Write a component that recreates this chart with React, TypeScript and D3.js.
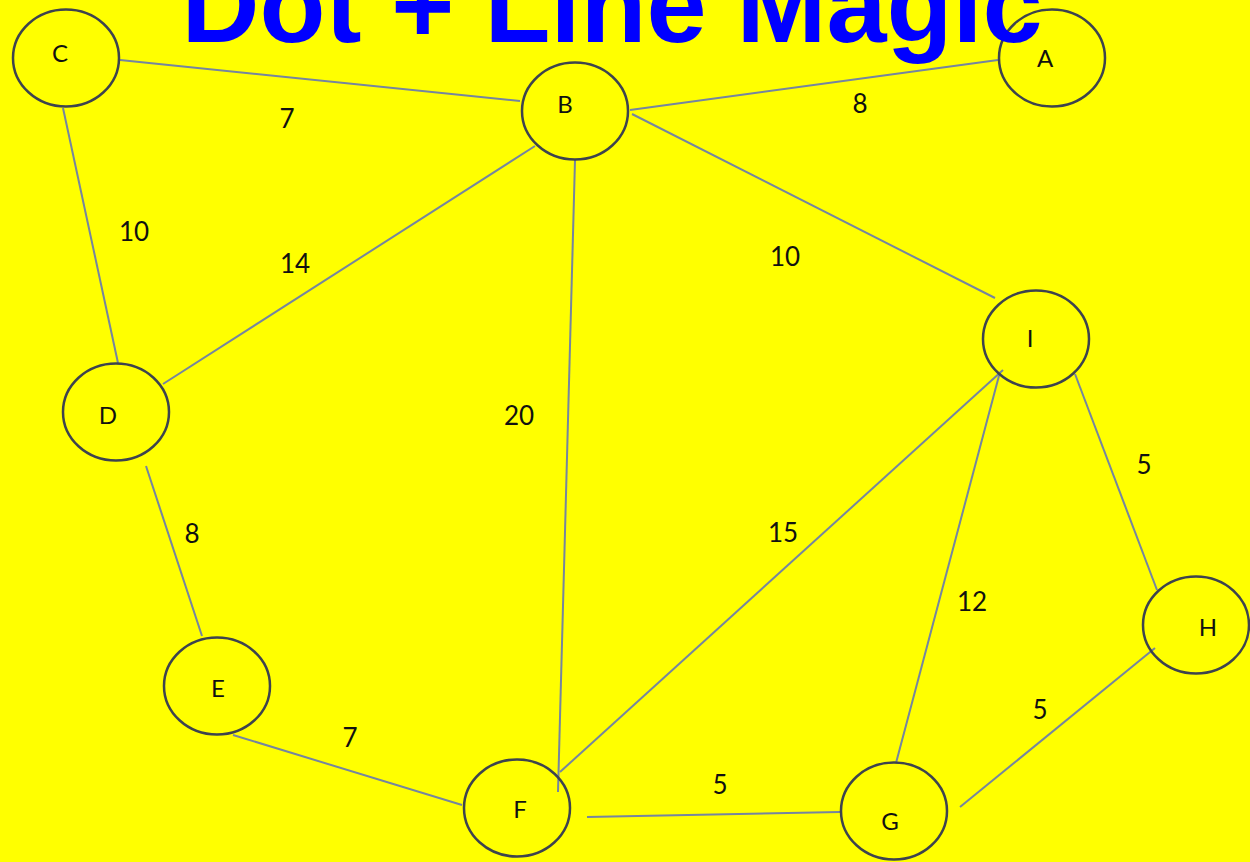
import React, { useEffect, useRef } from 'react';
import * as d3 from 'd3';

// node centres and where the letter sits (picture coordinates)
const nodes = [
  { id: 'A', x: 1052, y: 58, lx: 1045, ly: 57 },
  { id: 'B', x: 575, y: 111, lx: 565, ly: 103 },
  { id: 'C', x: 66, y: 58, lx: 60, ly: 52 },
  { id: 'D', x: 116, y: 412, lx: 108, ly: 414 },
  { id: 'E', x: 217, y: 686, lx: 218, ly: 687 },
  { id: 'F', x: 517, y: 808, lx: 520, ly: 808 },
  { id: 'G', x: 894, y: 811, lx: 890, ly: 820 },
  { id: 'H', x: 1196, y: 625, lx: 1208, ly: 626 },
  { id: 'I', x: 1036, y: 339, lx: 1030, ly: 337 },
];

// edges: ends as drawn, weight and where the weight is written
const edges = [
  { from: 'C', to: 'B', w: 7, x1: 120, y1: 60, x2: 520, y2: 101, lx: 287, ly: 118 },
  { from: 'B', to: 'A', w: 8, x1: 630, y1: 110, x2: 998, y2: 60, lx: 860, ly: 103 },
  { from: 'C', to: 'D', w: 10, x1: 63, y1: 108, x2: 118, y2: 363, lx: 134, ly: 231 },
  { from: 'D', to: 'B', w: 14, x1: 163, y1: 384, x2: 535, y2: 146, lx: 295, ly: 263 },
  { from: 'B', to: 'F', w: 20, x1: 575, y1: 160, x2: 558, y2: 792, lx: 519, ly: 415 },
  { from: 'B', to: 'I', w: 10, x1: 632, y1: 114, x2: 995, y2: 298, lx: 785, ly: 256 },
  { from: 'D', to: 'E', w: 8, x1: 146, y1: 466, x2: 202, y2: 636, lx: 192, ly: 533 },
  { from: 'I', to: 'F', w: 15, x1: 1003, y1: 370, x2: 560, y2: 772, lx: 783, ly: 532 },
  { from: 'I', to: 'G', w: 12, x1: 1000, y1: 372, x2: 896, y2: 763, lx: 972, ly: 601 },
  { from: 'I', to: 'H', w: 5, x1: 1075, y1: 374, x2: 1157, y2: 590, lx: 1144, ly: 464 },
  { from: 'E', to: 'F', w: 7, x1: 233, y1: 735, x2: 462, y2: 805, lx: 350, ly: 737 },
  { from: 'F', to: 'G', w: 5, x1: 587, y1: 817, x2: 840, y2: 812, lx: 720, ly: 784 },
  { from: 'H', to: 'G', w: 5, x1: 1155, y1: 648, x2: 960, y2: 807, lx: 1040, ly: 709 },
];

const title = 'Dot + Line Magic';

const App = () => {
  const svgRef = useRef<SVGSVGElement>(null);

  useEffect(() => {
    document.body.style.margin = '0';
    const width = 1250;
    const height = 862;
    const svg = d3.select(svgRef.current).attr('width', width).attr('height', height);
    svg.selectAll('*').remove();

    const x = d3.scaleLinear().domain([0, 1250]).range([0, width]);
    const y = d3.scaleLinear().domain([0, 862]).range([0, height]);

    svg.append('rect').attr('width', width).attr('height', height).attr('fill', '#ffff00');

    svg.selectAll('.edge').data(edges).join('line')
      .attr('class', 'edge')
      .attr('x1', d => x(d.x1)).attr('y1', d => y(d.y1))
      .attr('x2', d => x(d.x2)).attr('y2', d => y(d.y2))
      .attr('stroke', '#7585a0').attr('stroke-width', 2);

    svg.selectAll('.weight').data(edges).join('text')
      .attr('class', 'weight')
      .attr('x', d => x(d.lx)).attr('y', d => y(d.ly))
      .attr('text-anchor', 'middle').attr('dominant-baseline', 'central')
      .style('font-family', 'Lato, "Open Sans", sans-serif').style('font-size', '26px')
      .attr('fill', '#111')
      .text(d => d.w);

    svg.selectAll('.node').data(nodes).join('ellipse')
      .attr('class', 'node')
      .attr('cx', d => x(d.x)).attr('cy', d => y(d.y))
      .attr('rx', 53).attr('ry', 48.5)
      .attr('fill', 'none').attr('stroke', '#3d434e').attr('stroke-width', 2.5);

    svg.selectAll('.nlabel').data(nodes).join('text')
      .attr('class', 'nlabel')
      .attr('x', d => x(d.lx)).attr('y', d => y(d.ly))
      .attr('text-anchor', 'middle').attr('dominant-baseline', 'central')
      .style('font-family', 'Lato, "Open Sans", sans-serif').style('font-size', '24px')
      .attr('fill', '#111')
      .text(d => d.id);

    svg.append('text')
      .attr('x', 612).attr('y', 42)
      .attr('text-anchor', 'middle')
      .style('font-family', '"Liberation Sans", Arial, sans-serif')
      .style('font-weight', 'bold').style('font-size', '108px')
      .attr('fill', '#0000ff')
      .text(title);
  }, []);

  return <svg ref={svgRef} style={{ display: 'block' }}></svg>;
};

export default App;
